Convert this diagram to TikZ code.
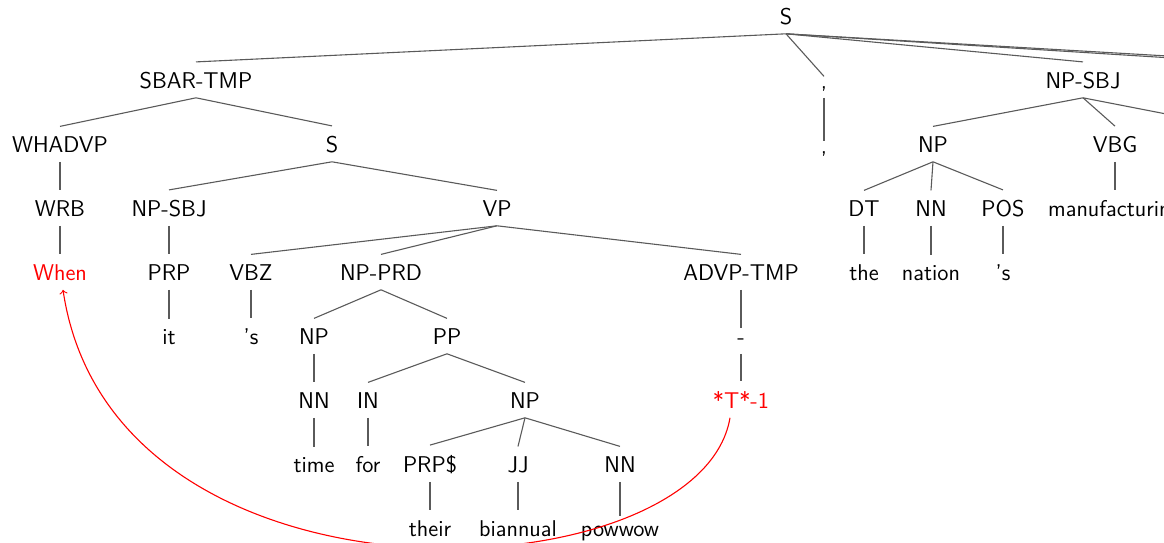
\documentclass[tikz,border=0pt]{standalone}
\usepackage{tikz}
\definecolor{treegray}{RGB}{90,90,90}
\definecolor{tracered}{RGB}{255,0,0}

\begin{document}
\begin{tikzpicture}[x=0.5pt,y=-0.5pt,
    font=\sffamily\fontsize{11.4}{13}\selectfont,
    tag/.style={anchor=base,inner ysep=4.7pt,text depth=0pt},
    branch/.style={draw=treegray,line width=0.55pt}]
\useasboundingbox (0,0) rectangle (1164,542);
\clip (0,0) rectangle (1164,542);

                % Root
                \node[tag] (root) at (786,24) {S};
                \coordinate (rootc) at (1236,62);
                \coordinate (rootd) at (1271,62);

                % Temporal clause
                \node[tag] (sbar) at (196,88) {SBAR-TMP};
                \node[tag] (whadvp) at (60,152) {WHADVP};
                \node[tag] (wrb) at (60,216) {WRB};
                \node[tag,tracered] (when) at (60,280) {When};
                \node[tag] (sin) at (332,152) {S};
                \node[tag] (npsbj) at (169,216) {NP-SBJ};
                \node[tag] (prp) at (169,280) {PRP};
                \node[tag] (it) at (169,344) {it};
                \node[tag] (vp) at (497,216) {VP};
                \node[tag] (vbz) at (251,280) {VBZ};
                \node[tag] (is) at (251,344) {'s};
                \node[tag] (npprd) at (381,280) {NP-PRD};
                \node[tag] (np) at (314,344) {NP};
                \node[tag] (nn) at (314,408) {NN};
                \node[tag] (time) at (314,472) {time};
                \node[tag] (pp) at (447,344) {PP};
                \node[tag] (in) at (368,408) {IN};
                \node[tag] (for) at (368,472) {for};
                \node[tag] (npobj) at (525,408) {NP};
                \node[tag] (prps) at (430,472) {PRP\$};
                \node[tag] (their) at (430,536) {their};
                \node[tag] (jj) at (518,472) {JJ};
                \node[tag] (biannual) at (518,536) {biannual};
                \node[tag] (nnobj) at (620,472) {NN};
                \node[tag] (powwow) at (620,536) {powwow};
                \node[tag] (advp) at (741,280) {ADVP-TMP};
                \node[tag] (dash) at (741,344) {-};
                \node[tag,tracered] (trace) at (741,408) {*T*-1};

                % Comma
                \node[tag] (comma) at (824,88) {,};
                \node[tag] (commaw) at (824,153) {,};

                % Subject
                \node[tag] (subj) at (1083,88) {NP-SBJ};
                \coordinate (subjc) at (1228,126);
                \node[tag] (nppos) at (933,152) {NP};
                \node[tag] (dt) at (864,216) {DT};
                \node[tag] (the) at (864,280) {the};
                \node[tag] (nnpos) at (931,216) {NN};
                \node[tag] (nation) at (931,280) {nation};
                \node[tag] (pos) at (1003,216) {POS};
                \node[tag] (poss) at (1003,280) {'s};
                \node[tag] (vbg) at (1115,152) {VBG};
                \node[tag] (manuf) at (1115,216) {manufacturing};

                % Branches
                \draw[branch] (root.south) -- (sbar.north);
                \draw[branch] (root.south) -- (comma.north);
                \draw[branch] (root.south) -- (subj.north);
                \draw[branch] (root.south) -- (rootc);
                \draw[branch] (root.south) -- (rootd);
                \draw[branch] (sbar.south) -- (whadvp.north);
                \draw[branch] (sbar.south) -- (sin.north);
                \draw[branch] (whadvp.south) -- (wrb.north);
                \draw[branch] (wrb.south) -- (when.north);
                \draw[branch] (sin.south) -- (npsbj.north);
                \draw[branch] (sin.south) -- (vp.north);
                \draw[branch] (npsbj.south) -- (prp.north);
                \draw[branch] (prp.south) -- (it.north);
                \draw[branch] (vp.south) -- (vbz.north);
                \draw[branch] (vp.south) -- (npprd.north);
                \draw[branch] (vp.south) -- (advp.north);
                \draw[branch] (vbz.south) -- (is.north);
                \draw[branch] (npprd.south) -- (np.north);
                \draw[branch] (npprd.south) -- (pp.north);
                \draw[branch] (np.south) -- (nn.north);
                \draw[branch] (nn.south) -- (time.north);
                \draw[branch] (pp.south) -- (in.north);
                \draw[branch] (pp.south) -- (npobj.north);
                \draw[branch] (in.south) -- (for.north);
                \draw[branch] (npobj.south) -- (prps.north);
                \draw[branch] (npobj.south) -- (jj.north);
                \draw[branch] (npobj.south) -- (nnobj.north);
                \draw[branch] (prps.south) -- (their.north);
                \draw[branch] (jj.south) -- (biannual.north);
                \draw[branch] (nnobj.south) -- (powwow.north);
                \draw[branch] (advp.south) -- (dash.north);
                \draw[branch] (dash.south) -- (trace.north);
                \draw[branch] (comma.south) -- (commaw.north);
                \draw[branch] (subj.south) -- (nppos.north);
                \draw[branch] (subj.south) -- (vbg.north);
                \draw[branch] (subj.south) -- (subjc);
                \draw[branch] (nppos.south) -- (dt.north);
                \draw[branch] (nppos.south) -- (nnpos.north);
                \draw[branch] (nppos.south) -- (pos.north);
                \draw[branch] (dt.south) -- (the.north);
                \draw[branch] (nnpos.south) -- (nation.north);
                \draw[branch] (pos.south) -- (poss.north);
                \draw[branch] (vbg.south) -- (manuf.north);

                % Trace link
                \draw[tracered,line width=0.55pt,->] ([xshift=-5.5pt]trace.south)
                    .. controls +(-30,178) and +(50,336) .. ([xshift=1.5pt]when.south);
\end{tikzpicture}
\end{document}
